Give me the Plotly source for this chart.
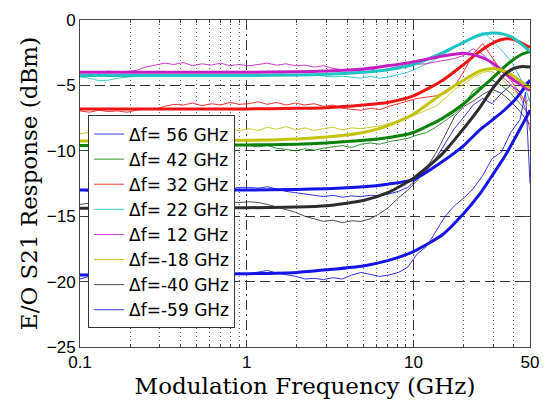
import math
import plotly.graph_objects as go

# ---------------- data ----------------
FREQ_FIT = [0.1, 1, 2, 3, 5, 7, 10, 15, 20, 25, 30, 35, 40, 45, 50]
FREQ_MEAS = [0.1, 0.114, 0.13, 0.148, 0.168, 0.191, 0.218, 0.248, 0.282, 0.321,
             0.365, 0.416, 0.473, 0.538, 0.612, 0.697, 0.793, 0.902, 1.03, 1.17,
             1.33, 1.51, 1.72, 1.96, 2.23, 2.54, 2.89, 3.29, 3.74, 4.26,
             4.84, 5.51, 6.27, 7.14, 8.12, 9.24, 10.5, 12.0, 13.6, 15.5,
             17.6, 20.1, 22.8, 26.0, 29.6, 33.7, 38.3, 43.6, 47, 50]

LABELS = ["Δf= 56 GHz", "Δf= 42 GHz", "Δf= 32 GHz", "Δf= 22 GHz",
          "Δf= 12 GHz", "Δf=-18 GHz", "Δf=-40 GHz", "Δf=-59 GHz"]
COLORS = ["#1414e6", "#0a820a", "#f01414", "#1ec3c3",
          "#c31ec3", "#c3c30a", "#2d2d2d", "#1414e6"]

fit_p56 = [-13.0, -13.0, -12.95, -12.9, -12.75, -12.55, -12.2, -10.8, -9.6, -8.4, -7.6, -6.9, -6.2, -5.4, -4.6]
fit_p42 = [-9.6, -9.55, -9.5, -9.4, -9.2, -9.0, -8.6, -7.5, -6.4, -5.3, -4.4, -3.6, -3.0, -2.6, -2.4]
fit_p32 = [-6.8, -6.8, -6.75, -6.7, -6.5, -6.3, -5.8, -4.6, -3.4, -2.4, -1.75, -1.45, -1.5, -1.8, -2.1]
fit_p22 = [-4.25, -4.25, -4.2, -4.15, -4.0, -3.8, -3.4, -2.5, -1.7, -1.15, -1.0, -1.1, -1.4, -1.9, -2.4]
fit_p12 = [-4.0, -4.0, -3.95, -3.9, -3.75, -3.5, -3.2, -2.75, -2.55, -2.8, -3.3, -4.0, -4.6, -5.0, -5.4]
fit_m18 = [-9.25, -9.2, -9.1, -8.95, -8.6, -8.1, -7.2, -5.6, -4.6, -3.9, -3.7, -3.9, -4.3, -4.8, -5.2]
fit_m40 = [-14.4, -14.35, -14.3, -14.2, -13.8, -13.2, -12.1, -10.2, -8.3, -6.7, -5.2, -4.2, -3.7, -3.55, -3.6]
fit_m59 = [-19.5, -19.4, -19.3, -19.1, -18.8, -18.4, -17.7, -16.4, -14.8, -13.3, -11.8, -10.5, -9.2, -8.0, -6.9]

meas_p56 = [-13.0, -13.1, -12.95, -13.05, -12.9, -13.0, -12.85, -13.0, -12.9, -13.05,
            -12.85, -12.95, -12.8, -12.9, -12.85, -12.75, -12.9, -12.8, -12.8, -12.85,
            -12.75, -12.95, -13.1, -13.2, -13.3, -13.45, -13.5, -13.4, -13.55, -13.45,
            -13.5, -13.4, -13.45, -13.3, -13.1, -12.8, -12.2, -11.5, -10.6, -9.4,
            -8.3, -7.4, -6.5, -6.0, -6.4, -5.6, -5.0, -5.5, -4.8, -4.6]
meas_p42 = [-9.6, -9.7, -9.55, -9.75, -9.6, -9.5, -9.65, -9.55, -9.7, -9.5,
            -9.6, -9.45, -9.6, -9.5, -9.65, -9.5, -9.45, -9.6, -9.6, -9.7,
            -9.6, -9.8, -9.9, -10.0, -9.85, -9.95, -9.8, -9.7, -9.6, -9.75,
            -9.5, -9.4, -9.5, -9.3, -9.2, -9.05, -8.8, -8.6, -8.2, -7.7,
            -7.2, -6.5, -5.4, -5.0, -4.6, -5.0, -5.6, -6.4, -6.9, -7.3]
meas_p32 = [-6.95, -7.05, -6.9, -7.0, -6.95, -7.05, -6.9, -6.8, -6.85, -6.6,
            -6.45, -6.5, -6.35, -6.55, -6.4, -6.5, -6.3, -6.45, -6.4, -6.25,
            -6.45, -6.3, -6.5, -6.35, -6.5, -6.4, -6.6, -6.5, -6.75, -6.85,
            -6.9, -6.75, -6.85, -6.6, -6.4, -6.2, -6.0, -5.9, -5.8, -5.6,
            -5.1, -3.9, -2.6, -1.8, -2.9, -3.9, -4.6, -5.6, -6.3, -6.0]
meas_p22 = [-4.35, -4.45, -4.65, -4.6, -4.45, -4.35, -4.3, -4.25, -4.3, -4.2,
            -4.3, -4.25, -4.2, -4.3, -4.25, -4.2, -4.3, -4.25, -4.2, -4.15,
            -4.2, -4.1, -4.15, -4.2, -4.25, -4.2, -4.3, -4.35, -4.3, -4.4,
            -4.45, -4.3, -4.45, -4.35, -4.2, -4.0, -3.7, -3.35, -3.0, -2.55,
            -2.1, -1.8, -1.3, -0.95, -1.5, -2.3, -3.1, -4.4, -5.2, -6.3]
meas_p12 = [-4.0, -3.95, -4.05, -3.9, -4.0, -3.95, -3.85, -3.6, -3.45, -3.3,
            -3.4, -3.25, -3.5, -3.35, -3.45, -3.3, -3.5, -3.4, -3.5, -3.4,
            -3.3, -3.45, -3.35, -3.5, -3.45, -3.6, -3.5, -3.7, -3.8, -3.9,
            -3.85, -3.75, -3.9, -3.7, -3.55, -3.4, -3.4, -3.35, -3.2, -3.1,
            -2.95, -2.7, -2.2, -2.6, -3.4, -4.3, -4.9, -5.8, -6.8, -8.5]
meas_m18 = [-8.7, -8.6, -8.8, -8.55, -8.7, -8.5, -8.65, -8.45, -8.6, -8.4,
            -8.55, -8.35, -8.5, -8.3, -8.45, -8.55, -8.35, -8.45, -8.3, -8.45,
            -8.2, -8.35, -8.15, -8.4, -8.25, -8.45, -8.3, -8.2, -8.4, -8.25,
            -8.3, -8.2, -8.1, -7.9, -7.7, -7.5, -7.2, -6.9, -6.6, -6.0,
            -5.3, -4.9, -4.4, -4.0, -3.9, -4.5, -5.2, -5.8, -6.3, -6.6]
meas_m40 = [-14.1, -14.0, -14.15, -13.95, -14.05, -13.9, -14.0, -14.1, -13.95, -14.05,
            -13.9, -14.0, -13.85, -14.0, -13.9, -14.05, -13.9, -13.95, -13.9, -13.95,
            -14.1, -14.3, -14.5, -14.7, -15.0, -15.2, -15.4, -15.3, -15.5, -15.35,
            -15.4, -15.2, -14.8, -14.3, -13.6, -13.0, -12.3, -11.3, -10.2, -8.8,
            -7.4, -6.6, -6.2, -5.7, -5.3, -5.6, -6.2, -7.0, -7.6, -8.0]
meas_m59 = [-19.8, -19.6, -19.7, -19.5, -19.65, -19.45, -19.6, -19.5, -19.7, -19.45,
            -19.55, -19.4, -19.6, -19.45, -19.5, -19.35, -19.55, -19.4, -19.4, -19.3,
            -19.15, -19.35, -19.45, -19.6, -19.8, -19.75, -19.85, -19.7, -19.8, -19.5,
            -19.3, -19.45, -19.6, -19.5, -19.3, -18.9, -17.9, -17.3, -16.2, -15.0,
            -14.2, -13.6, -12.9, -11.9, -10.6, -10.1, -8.6, -7.6, -5.5, -12.5]

FITS = [fit_p56, fit_p42, fit_p32, fit_p22, fit_p12, fit_m18, fit_m40, fit_m59]
MEAS = [meas_p56, meas_p42, meas_p32, meas_p22, meas_p12, meas_m18, meas_m40, meas_m59]

X_TICKS = [0.1, 1, 10, 50]
X_TICKTEXT = ["0.1", "1", "10", "50"]
X_MINOR = [0.2, 0.3, 0.4, 0.5, 0.6, 0.7, 0.8, 0.9, 2, 3, 4, 5, 6, 7, 8, 9, 20, 30, 40]
Y_TICKS = [0, -5, -10, -15, -20, -25]

# ---------------- figure ----------------
fig = go.Figure()

for lab, col, ys in zip(LABELS, COLORS, MEAS):
    fig.add_trace(go.Scatter(x=FREQ_MEAS, y=ys, mode="lines", name=lab,
                             line=dict(color=col, width=1), opacity=0.85,
                             showlegend=True))
for lab, col, ys in zip(LABELS, COLORS, FITS):
    fig.add_trace(go.Scatter(x=FREQ_FIT, y=ys, mode="lines", name=lab + " fit",
                             line=dict(color=col, width=3, shape="spline", smoothing=0.6),
                             showlegend=False))

axis_font = dict(family="Liberation Sans, Arial", size=17, color="black")
title_font = dict(family="DejaVu Serif", size=23, color="black")

fig.update_xaxes(
    type="log", range=[-1, math.log10(50)], automargin=False,
    tickmode="array", tickvals=X_TICKS, ticktext=X_TICKTEXT,
    ticks="inside", ticklen=6, tickcolor="#444",
    showline=True, linecolor="#444", linewidth=1, mirror="allticks",
    showgrid=True, gridcolor="#333", gridwidth=1, griddash="10px,4px,2px,4px",
    minor=dict(tickmode="array", tickvals=X_MINOR, ticks="inside", ticklen=3,
               tickcolor="#444", showgrid=True, gridcolor="#666",
               griddash="1px,3px", gridwidth=1),
    tickfont=axis_font,
    title=dict(text="Modulation Frequency (GHz)", font=title_font, standoff=6),
)
fig.update_yaxes(
    range=[-25, 0], tickmode="array", tickvals=Y_TICKS, automargin=False,
    ticks="inside", ticklen=6, tickcolor="#444",
    showline=True, linecolor="#444", linewidth=1, mirror="allticks",
    showgrid=True, gridcolor="#333", gridwidth=1, griddash="10px,5px",
    zeroline=False, tickfont=axis_font,
    title=dict(text="E/O S21 Response (dBm)", font=title_font, standoff=2),
)

fig.update_layout(
    width=544, height=395,
    margin=dict(l=72, r=22, t=12, b=56),
    plot_bgcolor="white", paper_bgcolor="white",
    legend=dict(x=0.018, y=0.708, xanchor="left", yanchor="top",
                bgcolor="white", bordercolor="#333", borderwidth=1,
                font=dict(family="DejaVu Sans", size=17, color="black"),
                itemwidth=30, tracegroupgap=0),
)

fig.write_html("out.html")
